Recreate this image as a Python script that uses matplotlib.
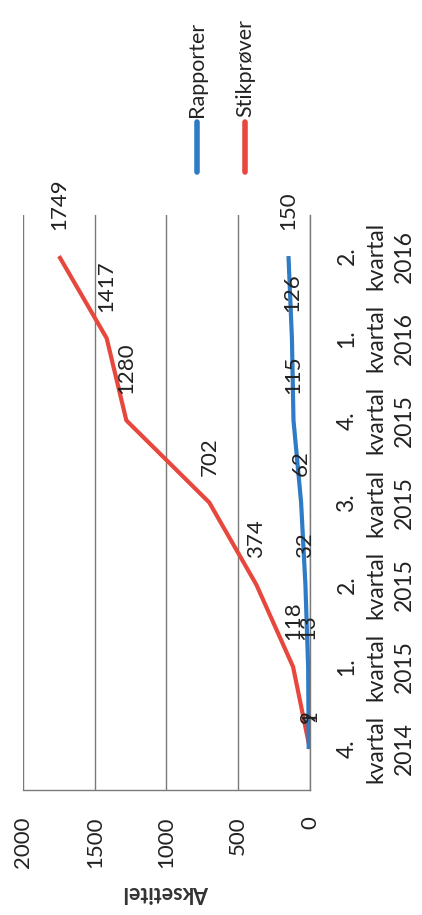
import matplotlib.pyplot as plt
import numpy as np

plt.rcParams['font.family'] = ['Lato', 'DejaVu Sans']

kvartaler = ["4.\nkvartal\n2014", "1.\nkvartal\n2015", "2.\nkvartal\n2015",
             "3.\nkvartal\n2015", "4.\nkvartal\n2015", "1.\nkvartal\n2016",
             "2.\nkvartal\n2016"]
rapporter = [9, 13, 32, 62, 115, 126, 150]
stikprover = [1, 118, 374, 702, 1280, 1417, 1749]
serier = ["Rapporter", "Stikprøver"]
farger = ["#2f7bc6", "#e8473d"]
verdi_ticks = [0, 500, 1000, 1500, 2000]

fig = plt.figure(figsize=(4.22, 9.15), dpi=100)
# chart is turned 90 degrees: values run right-to-left, quarters bottom-to-top
ax = fig.add_axes([23/422, 1-790/915, 287/422, 575/915])

pos = np.arange(len(kvartaler))
for verdier, farge in zip([rapporter, stikprover][::-1], farger[::-1]):
    ax.plot(verdier, pos, color=farge, lw=3.0, solid_capstyle='butt', zorder=3)
for verdier in [stikprover, rapporter]:
    for v, p in zip(verdier, pos):
        ax.annotate(str(v), (v, p), xytext=(0, 19), textcoords='offset points',
                    rotation=90, ha='center', va='bottom', fontsize=16,
                    color='#222222', zorder=4)

ax.set_xlim(2000, 0)
ax.set_ylim(-0.5, len(kvartaler) - 0.5)
ax.set_xticks(verdi_ticks)
ax.set_xticklabels([str(t) for t in verdi_ticks], rotation=90, fontsize=16,
                   color='#222222')
ax.tick_params(axis='x', length=0, pad=19)
ax.grid(axis='x', color='#7a7a7a', lw=1.0)
ax.yaxis.tick_right()
ax.set_yticks(pos)
ax.set_yticklabels(kvartaler, rotation=90, fontsize=16.5, color='#222222',
                   multialignment='center', linespacing=1.45)
ax.tick_params(axis='y', length=0, pad=19)
for lbl in ax.get_yticklabels():
    lbl.set_verticalalignment('center')
for s in ['left', 'top']:
    ax.spines[s].set_visible(False)
for s in ['right', 'bottom']:
    ax.spines[s].set_color('#7a7a7a')
    ax.spines[s].set_linewidth(1.0)

fig.text(166.5/422, 1-893/915, "Aksetitel", rotation=180, ha='center',
         va='center', fontsize=15.5, fontweight='bold', color='#333333')

# legend, drawn turned like the rest
for i, (navn, farge) in enumerate(zip(serier, farger)):
    x = (197 + 48*i)/422
    fig.add_artist(plt.Line2D([x, x], [1-172/915, 1-122/915], color=farge,
                              lw=4, solid_capstyle='round'))
    fig.text(x, 1-117/915, navn, rotation=90, ha='center', va='bottom',
             fontsize=15.5, color='#222222')

fig.savefig("out.png", dpi=100)
